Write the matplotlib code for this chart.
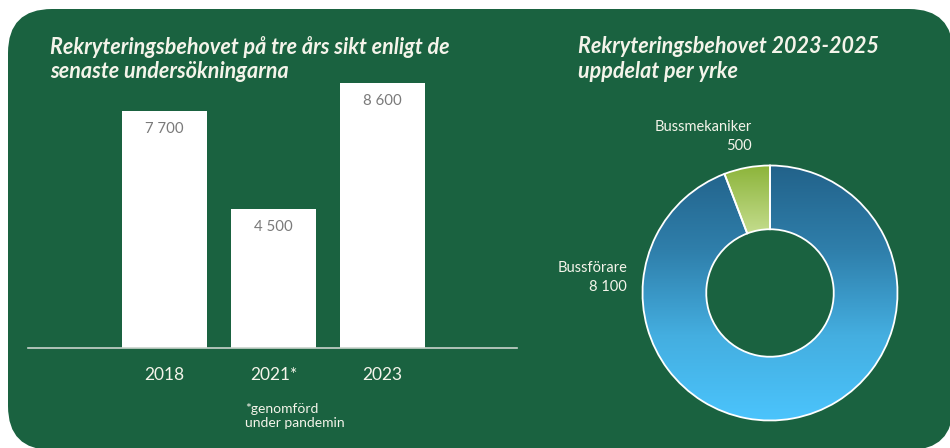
import matplotlib
matplotlib.use("Agg")
import matplotlib.pyplot as plt
import numpy as np
from matplotlib.patches import FancyBboxPatch
from matplotlib.colors import LinearSegmentedColormap

# ---- data ----
years = ["2018", "2021*", "2023"]
need = [7700, 4500, 8600]
need_labels = ["7 700", "4 500", "8 600"]

occupations = ["Bussmekaniker", "Bussförare"]
occ_values = [500, 8100]
occ_labels = ["500", "8 100"]

title_left = "Rekryteringsbehovet på tre års sikt enligt de\nsenaste undersökningarna"
title_right = "Rekryteringsbehovet 2023-2025\nuppdelat per yrke"
footnote = "*genomförd\nunder pandemin"

# ---- style ----
W, H = 950, 448
GREEN = "#1a6240"
TXT = "#f4f4ea"
plt.rcParams["font.family"] = ["Lato", "DejaVu Sans"]

fig = plt.figure(figsize=(W / 100, H / 100), dpi=100)
fig.patch.set_facecolor("white")

# background panel in pixel coords
bg = fig.add_axes([0, 0, 1, 1])
bg.set_xlim(0, W)
bg.set_ylim(H, 0)
bg.axis("off")
RAD = 44
px0, py0, px1, py1 = 8, 9, 953, 450
bg.add_patch(FancyBboxPatch((px0 + RAD, py0 + RAD), px1 - px0 - 2 * RAD, py1 - py0 - 2 * RAD,
                            boxstyle="round,pad=%d" % RAD, facecolor=GREEN, edgecolor="none"))

def px_axes(x0, y0, x1, y1):
    return fig.add_axes([x0 / W, 1 - y1 / H, (x1 - x0) / W, (y1 - y0) / H])

# ---- bar chart ----
unit = 109.0
c0 = 164.5
ax = px_axes(28, 60, 517, 348)
ax.set_facecolor("none")
xpos = np.arange(len(years))
bars = ax.bar(xpos, need, width=85 / unit, color="white", edgecolor="none")
ax.set_xlim(-(c0 - 28) / unit, (517 - c0) / unit)
ax.set_ylim(0, 288 / (265 / 8600))
for s in ["top", "right", "left"]:
    ax.spines[s].set_visible(False)
ax.spines["bottom"].set_color("#c9d3cc")
ax.spines["bottom"].set_linewidth(1.2)
ax.set_yticks([])
ax.set_xticks(xpos)
ax.set_xticklabels(years, color=TXT, fontsize=12.5)
ax.tick_params(axis="x", length=0, pad=14)
for b, lab in zip(bars, need_labels):
    ax.annotate(lab, (b.get_x() + b.get_width() / 2, b.get_height()),
                xytext=(0, -13), textcoords="offset points",
                ha="center", va="center", color="#7a7a7a", fontsize=10.8)

# ---- donut ----
cx, cy, R = 770, 293, 127.5
dax = px_axes(cx - 1.1 * R, cy - 1.1 * R, cx + 1.1 * R, cy + 1.1 * R)
dax.set_xlim(-1.1, 1.1)
dax.set_ylim(-1.1, 1.1)
dax.set_aspect("equal")
dax.axis("off")
wedges, _ = dax.pie(occ_values, startangle=90, counterclock=True, radius=1,
                    wedgeprops=dict(width=0.5, edgecolor="white", linewidth=1.3))
cmaps = [LinearSegmentedColormap.from_list("g", ["#c6de90", "#8cb43a"]),
         LinearSegmentedColormap.from_list("b", ["#4bc4fc", "#44aee0", "#2f7fab", "#22628a"])]
extents = [(-1, 1, 0.45, 1.0), (-1, 1, -1, 1)]
grad = np.linspace(0, 1, 256).reshape(-1, 1)
for w, cm, ext in zip(wedges, cmaps, extents):
    im = dax.imshow(grad, cmap=cm, extent=ext, origin="lower", aspect="auto", zorder=1)
    im.set_clip_path(w)
    w.set_facecolor("none")
    w.set_zorder(2)
dax.set_xlim(-1.1, 1.1)
dax.set_ylim(-1.1, 1.1)

dax.text(-0.14, 1.30, occupations[0], ha="right", va="center", color=TXT, fontsize=10.5)
dax.text(-0.14, 1.155, occ_labels[0], ha="right", va="center", color=TXT, fontsize=10.5)
dax.text(-1.12, 0.196, occupations[1], ha="right", va="center", color=TXT, fontsize=10.5)
dax.text(-1.12, 0.047, occ_labels[1], ha="right", va="center", color=TXT, fontsize=10.5)

# ---- titles & footnote ----
bg.text(50, 59, title_left, ha="left", va="center", color=TXT, fontsize=15.5,
        fontweight="bold", fontstyle="italic", linespacing=1.2)
bg.text(578, 59, title_right, ha="left", va="center", color=TXT, fontsize=15.5,
        fontweight="bold", fontstyle="italic", linespacing=1.2)
bg.text(245, 416, footnote, ha="left", va="center", color=TXT, fontsize=10,
        linespacing=1.25)

fig.savefig("out.png", dpi=100, facecolor=fig.get_facecolor())
